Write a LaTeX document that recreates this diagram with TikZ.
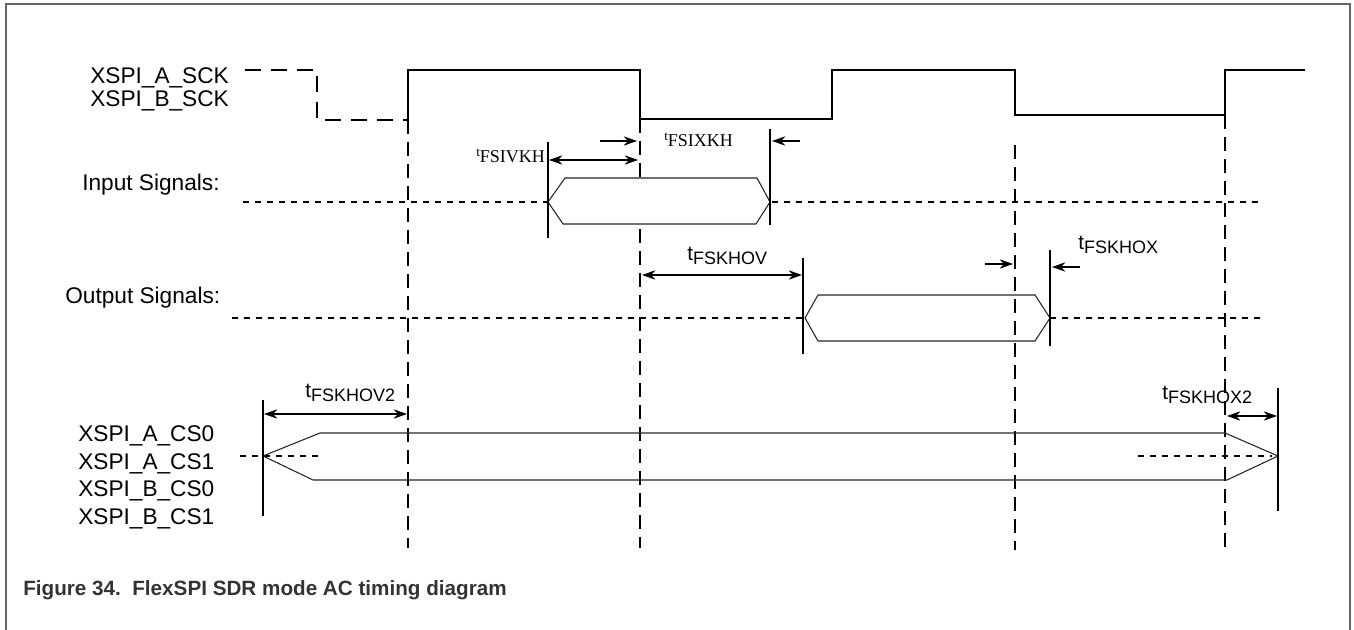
\documentclass[tikz,border=0pt]{standalone}
\usepackage{fontspec}
\setmainfont{Liberation Sans}
\newfontfamily\tms{Liberation Serif}
\usetikzlibrary{arrows.meta}
\begin{document}
\begin{tikzpicture}[x=0.75pt,y=-0.75pt,
  sig/.style={line width=1.5pt},
  clkdash/.style={line width=1.5pt, dash pattern=on 12pt off 7.5pt},
  vdash/.style={line width=1.5pt, dash pattern=on 10.5pt off 6pt},
  dots/.style={line width=1.5pt, dash pattern=on 4.5pt off 4.5pt},
  bus/.style={line width=0.8pt, draw=black!85},
  marker/.style={line width=1.5pt},
  dim/.style={line width=1pt, {Stealth[length=10pt,width=7pt]}-{Stealth[length=10pt,width=7pt]}},
  onearrow/.style={line width=1pt, -{Stealth[length=10pt,width=7pt]}},
  lbl/.style={font=\fontsize{17pt}{20pt}\selectfont, anchor=base west, inner sep=0pt},
  tlbl/.style={anchor=base west, inner sep=0pt},
]
\useasboundingbox (0,0) rectangle (1354,630);
\fill[white] (0,0) rectangle (1354,630);
% frame
\draw[line width=1.5pt, draw=black!60] (6,632) -- (6,4) -- (1350,4) -- (1350,632);

% clock
\draw[clkdash] (245,70) -- (317,70) -- (317,120) -- (408,120);
\draw[sig] (408,120) -- (408,70) -- (640,70) -- (640,119) -- (832,119) -- (832,70) -- (1015,70) -- (1015,115) -- (1225,115) -- (1225,70) -- (1305,70);

% vertical reference lines
\draw[vdash] (408,120) -- (408,548);
\draw[vdash] (640,119) -- (640,548);
\draw[vdash] (1015,145) -- (1015,550);
\draw[vdash] (1225,115) -- (1225,550);

% input signals
\draw[dots] (243,202) -- (548,202);
\draw[dots] (772,202) -- (1262,202);
\draw[bus, fill=white] (548,202) -- (565,178) -- (757,178) -- (770,202) -- (756,224) -- (563,224) -- cycle;
\draw[marker] (548,142) -- (548,238);
\draw[marker] (770,129) -- (770,225);
\draw[dim] (549,160) -- (638,160);
\draw[onearrow] (600,141) -- (637,141);
\draw[onearrow] (800,141) -- (772,141);

% output signals
\draw[dots] (232,318) -- (803,318);
\draw[dots] (1050,318) -- (1263,318);
\draw[bus] (805,318) -- (818,295) -- (1035,295) -- (1050,318) -- (1035,341) -- (818,341) -- cycle;
\draw[marker] (803,258) -- (803,354);
\draw[marker] (1050,250) -- (1050,346);
\draw[dim] (642,275) -- (802,275);
\draw[onearrow] (985,264) -- (1013,264);
\draw[onearrow] (1080,267) -- (1052,267);

% chip selects
\draw[dots] (240,456) -- (322,456);
\draw[dots] (1138,456) -- (1272,456);
\draw[bus] (263,456) -- (320,433) -- (1225,433) -- (1278,456) -- (1227,480) -- (313,480) -- cycle;
\draw[marker] (263,400) -- (263,516);
\draw[marker] (1278,388) -- (1278,511);
\draw[dim] (264,414) -- (407,414);
\draw[dim] (1227,416) -- (1277,416);

% left labels
\node[lbl] (sa) at (90,84) {XSPI\_A\_SCK};
\node[lbl] (sb) at (90,107) {XSPI\_B\_SCK};
\node[lbl] (in) at (82,191) {Input Signals:};
\node[lbl] (out) at (65,304) {Output Signals:};
\node[lbl] (c1) at (78,442) {XSPI\_A\_CS0};
\node[lbl] (c2) at (78,470) {XSPI\_A\_CS1};
\node[lbl] (c3) at (78,497) {XSPI\_B\_CS0};
\node[lbl] (c4) at (78,525) {XSPI\_B\_CS1};

% timing labels (serif)
\node[tlbl] (tivkh) at (476,163) {\tms\raisebox{4.5pt}{\fontsize{10pt}{12pt}\selectfont t}\fontsize{13.5pt}{16pt}\selectfont FSIVKH};
\node[tlbl] (tixkh) at (664,147) {\tms\raisebox{4.5pt}{\fontsize{10pt}{12pt}\selectfont t}\fontsize{13.5pt}{16pt}\selectfont FSIXKH};
% timing labels (sans)
\node[tlbl] (thov) at (687,261) {\fontsize{15.5pt}{18pt}\selectfont t\raisebox{-3pt}{\fontsize{13.5pt}{16pt}\selectfont FSKHOV}};
\node[tlbl] (thox) at (1078,250) {\fontsize{15.5pt}{18pt}\selectfont t\raisebox{-3pt}{\fontsize{13.5pt}{16pt}\selectfont FSKHOX}};
\node[tlbl] (thov2) at (305,398) {\fontsize{15.5pt}{18pt}\selectfont t\raisebox{-3pt}{\fontsize{13.5pt}{16pt}\selectfont FSKHOV2}};
\node[tlbl] (thox2) at (1162,400) {\fontsize{15.5pt}{18pt}\selectfont t\raisebox{-3pt}{\fontsize{13.5pt}{16pt}\selectfont FSKHOX2}};

% caption
\node[anchor=base west, inner sep=0pt, text=black!80, font=\bfseries\fontsize{15.5pt}{18pt}\selectfont] (cap) at (23,596) {Figure 34.\ \ FlexSPI SDR mode AC timing diagram};
\end{tikzpicture}
\end{document}
